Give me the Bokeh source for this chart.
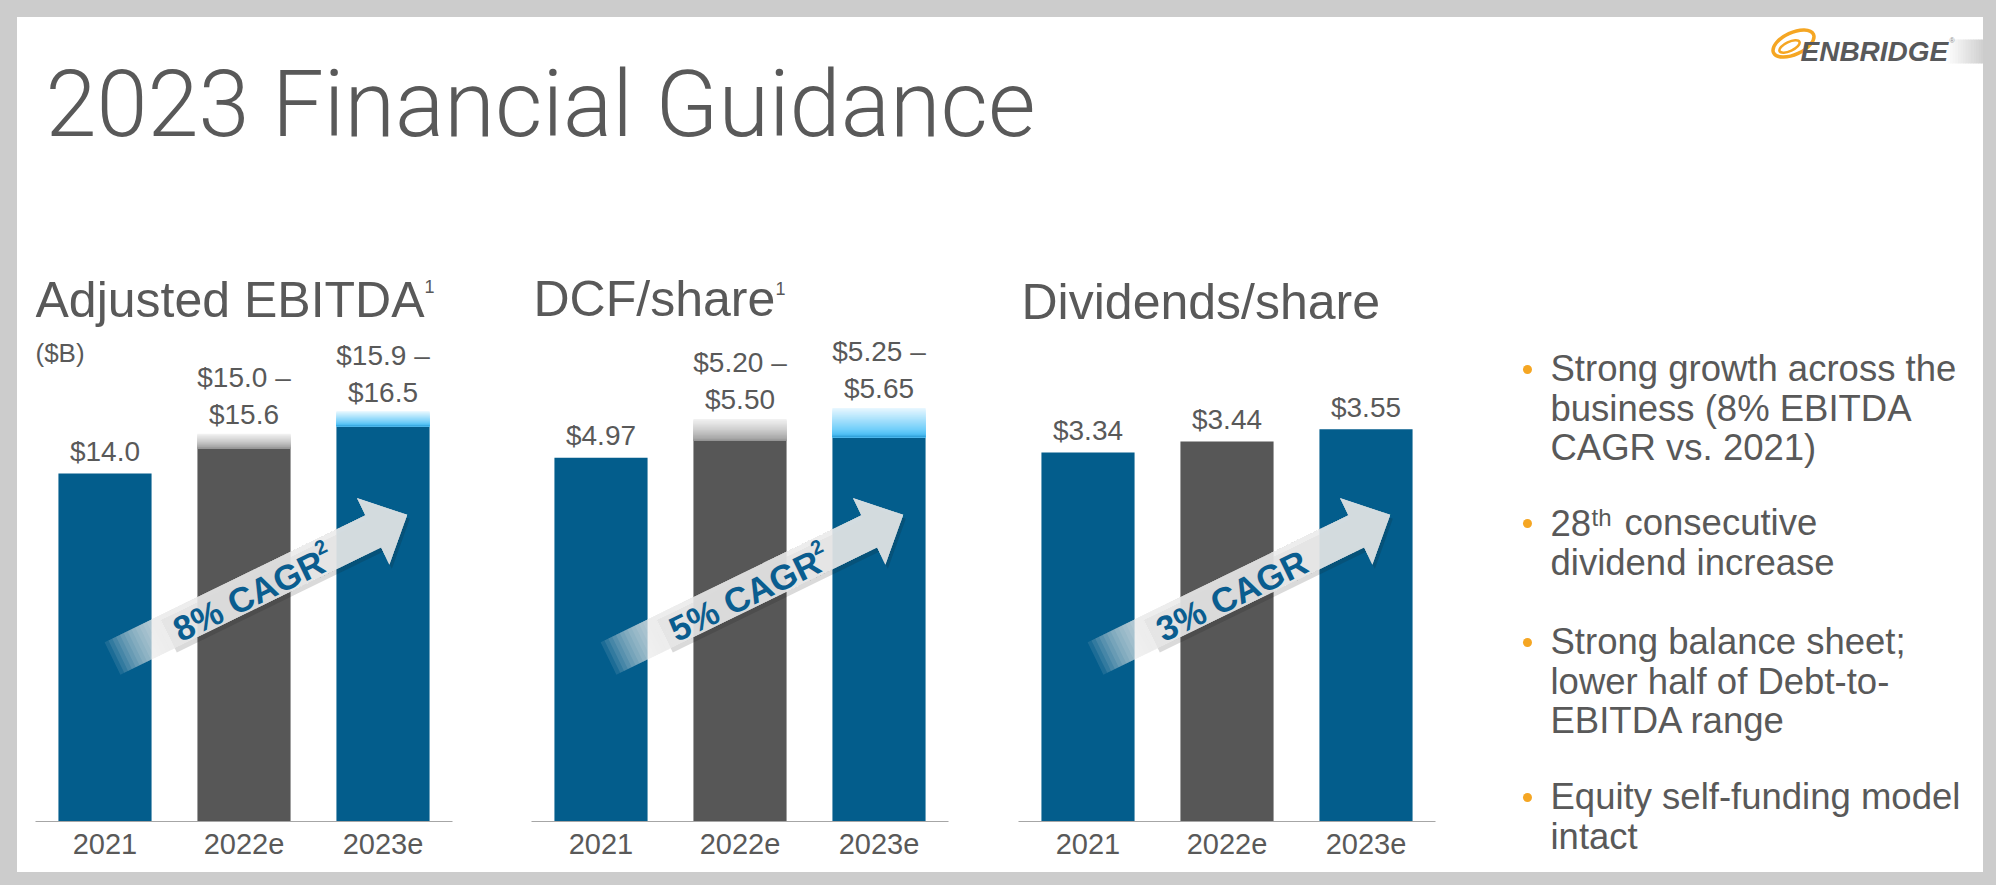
import math
from bokeh.plotting import figure
from bokeh.models import Range1d, Div, GlobalInlineStyleSheet
from bokeh.layouts import column, row
from bokeh.core.properties import value
from bokeh.embed import file_html
from bokeh.resources import INLINE

# ---------------- data ----------------
categories = ["2021", "2022e", "2023e"]
ebitda_low = [14.0, 15.0, 15.9]
ebitda_high = [14.0, 15.6, 16.5]
dcf_low = [4.97, 5.20, 5.25]
dcf_high = [4.97, 5.50, 5.65]
dividends = [3.34, 3.44, 3.55]
chart_titles = ["Adjusted EBITDA", "DCF/share", "Dividends/share"]
title_notes = ["1", "1", ""]
unit_labels = ["($B)", "", ""]
cagr_labels = ["8% CAGR", "5% CAGR", "3% CAGR"]
cagr_notes = ["2", "2", ""]
value_decimals = [1, 2, 2]
main_title = "2023 Financial Guidance"
logo_text = "ENBRIDGE"
bullet_items = [
    ["Strong growth across the", "business (8% EBITDA", "CAGR vs. 2021)"],
    ["28|th|consecutive", "dividend increase"],
    ["Strong balance sheet;", "lower half of Debt-to-", "EBITDA range"],
    ["Equity self-funding model", "intact"],
]

# ---------------- styles / layout ----------------
FONT = value("Liberation Sans")
TXT = "#595959"
BLUE = "#035d8c"
DGRAY = "#575757"
ORANGE = "#f5a623"
CAGR_BLUE = "#0a5d8f"
FRAME_GRAY = "#cccccc"
bar_colors = [BLUE, DGRAY, BLUE]
blue_band = [(0.0, (42, 154, 211)), (0.1, (80, 192, 245)), (0.25, (110, 205, 249)), (1.0, (234, 248, 255))]
gray_band = [(0.0, (138, 138, 138)), (0.1, (166, 166, 166)), (0.5, (205, 205, 205)), (1.0, (243, 243, 243))]

EDGE = 7          # gray frame inside the 8px page margin (page body is gray too)
INNER_W = 1966
TOP_H = 185
CH_H = 670
FRAME_W = 417
FRAME_H = 619
BORDER_B = 51
FACTOR_PX = FRAME_W / 3
ppu = [24.86, 73.2, 110.5]
chart_borders = [(18, 40), (39, 29), (41, 27)]
title_pos = [(0, 504), (2, 505), (3, 502)]
note_pos = [(389, 529), (244, 527), None]
ARROW_ANGLE = 26.0
BASE_FIX = 0.355   # baseline correction (fraction of font size)


def lerp_color(stops, f):
    for (f0, c0), (f1, c1) in zip(stops[:-1], stops[1:]):
        if f <= f1:
            t = 0 if f1 == f0 else (f - f0) / (f1 - f0)
            c = [round(a + (b - a) * t) for a, b in zip(c0, c1)]
            return "#%02x%02x%02x" % tuple(c)
    return "#%02x%02x%02x" % stops[-1][1]


def txt(p, x, y, s, size, up=1.0, color=TXT, style="normal", align="left",
        baseline="alphabetic", angle=0.0, font=FONT):
    if baseline == "alphabetic":
        y = y + BASE_FIX * size * up
    p.text(x=[x], y=[y], text=[s], text_font=font, text_font_size=f"{size}px",
           text_font_style=style, text_color=color, text_align=align,
           text_baseline=baseline, angle=math.radians(angle))


def plain(p):
    p.grid.visible = False
    p.outline_line_color = None
    p.background_fill_color = "white"
    p.border_fill_color = "white"
    p.styles = {"background-color": "white"}


def make_chart(i, low, high):
    s = ppu[i]
    bl, br = chart_borders[i]
    p = figure(x_range=categories, y_range=Range1d(0, FRAME_H / s),
               frame_width=FRAME_W, frame_height=FRAME_H,
               min_border_left=bl, min_border_right=br, min_border_top=0,
               min_border_bottom=BORDER_B, toolbar_location=None,
               output_backend="svg", y_axis_location=None)
    plain(p)
    X = lambda px: px / FACTOR_PX
    Y = lambda px: px / s
    up = 1.0 / s

    # solid bars
    p.vbar(x=categories, bottom=0, top=low, width=0.67,
           fill_color=bar_colors, line_color=None)
    # guidance range bands
    N = 30
    bx, bb, bt, bc = [], [], [], []
    for j, cat in enumerate(categories):
        if high[j] > low[j]:
            stops = gray_band if bar_colors[j] == DGRAY else blue_band
            for k in range(N):
                f = 1 - k / N
                bx.append(cat)
                bb.append(low[j])
                bt.append(low[j] + f * (high[j] - low[j]))
                bc.append(lerp_color(stops, f - 0.5 / N))
    if bx:
        p.vbar(x=bx, bottom=bb, top=bt, width=0.67, fill_color=bc, line_color=None)

    # value labels
    fmt = "${:.%df}" % value_decimals[i]
    for j, cat in enumerate(categories):
        if high[j] > low[j]:
            txt(p, cat, high[j] + Y(9), fmt.format(high[j]), 28, up, align="center")
            txt(p, cat, high[j] + Y(46), fmt.format(low[j]) + " \u2013", 28, up, align="center")
        else:
            txt(p, cat, low[j] + Y(12), fmt.format(low[j]), 28, up, align="center")

    # titles
    tx, ty = title_pos[i]
    txt(p, X(tx), Y(ty), chart_titles[i], 50, up)
    if title_notes[i]:
        nx, ny = note_pos[i]
        txt(p, X(nx), Y(ny), title_notes[i], 18, up)
    if unit_labels[i]:
        txt(p, X(0), Y(459), unit_labels[i], 26, up)

    # CAGR arrow (decoration)
    th = math.radians(ARROW_ANGLE)
    tail = (77.0, 163.0)
    L, hl, sw, hw = 328.0, 38.0, 36.0, 74.0

    def to_data(u, v, dx=0.0, dy=0.0):
        xp = tail[0] + u * math.cos(th) - v * math.sin(th) + dx
        yp = tail[1] + u * math.sin(th) + v * math.cos(th) + dy
        return X(xp), Y(yp)

    def poly(pts, dx=0.0, dy=0.0):
        d = [to_data(u, v, dx, dy) for u, v in pts]
        return [a for a, b in d], [b for a, b in d]

    def arrow_from(u0):
        return [(u0, sw / 2), (L - hl, sw / 2), (L - hl, hw / 2), (L, 0),
                (L - hl, -hw / 2), (L - hl, -sw / 2), (u0, -sw / 2)]

    sx, sy = poly(arrow_from(60), 2.5, -4.0)
    p.patch(sx, sy, fill_color="#1a1a1a", fill_alpha=0.16, line_color=None)
    fade_end = 85.0
    nf = 20
    fxs, fys = [], []
    for k in range(nf):
        a, b = poly(arrow_from(fade_end * k / nf))
        fxs.append(a)
        fys.append(b)
    p.patches(fxs, fys, fill_color="#e9ecef", fill_alpha=0.109, line_color=None)
    # label on arrow
    cx, cy = to_data(150, -3)
    txt(p, cx, cy, cagr_labels[i], 35, color=CAGR_BLUE, style="bold",
        align="center", baseline="middle", angle=ARROW_ANGLE)
    if cagr_notes[i]:
        nx2, ny2 = to_data(236, 9)
        txt(p, nx2, ny2, cagr_notes[i], 20, color=CAGR_BLUE, style="bold",
            align="center", baseline="middle", angle=ARROW_ANGLE)

    # category axis
    ax = p.xaxis[0]
    ax.axis_line_color = "#a6a6a6"
    ax.axis_line_width = 1.2
    ax.major_tick_line_color = None
    ax.minor_tick_line_color = None
    ax.major_label_text_font = "Liberation Sans"
    ax.major_label_text_font_size = "29px"
    ax.major_label_text_color = TXT
    ax.major_label_standoff = 6
    return p


c1 = make_chart(0, ebitda_low, ebitda_high)
c2 = make_chart(1, dcf_low, dcf_high)
c3 = make_chart(2, dividends, dividends)

# ---------------- header ----------------
hdr = figure(frame_width=INNER_W, frame_height=TOP_H, x_range=Range1d(0, INNER_W),
             y_range=Range1d(TOP_H, 0), min_border=0, toolbar_location=None,
             output_backend="svg", x_axis_location=None, y_axis_location=None)
plain(hdr)
txt(hdr, 28, 120, main_title, 92, up=-1.0, font=value("Roboto Light"))
# logo band
nb = 14
for k in range(nb):
    g = round(255 - (255 - 208) * (k + 1) / nb)
    hdr.quad(left=1930 + 36 * k / nb, right=1930 + 36 * (k + 1) / nb + 0.5, top=22, bottom=46,
             fill_color="#%02x%02x%02x" % (g, g, g), line_color=None)
hdr.ellipse(x=[1776], y=[26], width=[44], height=[22], angle=math.radians(25),
            fill_alpha=0, line_color=ORANGE, line_width=3.5)
hdr.ellipse(x=[1772], y=[29], width=[22], height=[9], angle=math.radians(25),
            fill_alpha=0, line_color=ORANGE, line_width=2.5)
txt(hdr, 1783, 44, logo_text, 28, up=-1.0, color="#58595b", style="bold italic")
txt(hdr, 1932, 25, "\u00ae", 7, up=-1.0, color="#888888")

# ---------------- bullets ----------------
BW = INNER_W - sum(FRAME_W + a + b for a, b in chart_borders)
bul = figure(frame_width=BW, frame_height=CH_H, x_range=Range1d(0, BW),
             y_range=Range1d(CH_H, 0), min_border=0, toolbar_location=None,
             output_backend="svg", x_axis_location=None, y_axis_location=None)
plain(bul)
first_baselines = [179, 333, 452, 607]
LINE = 39.5
TX = 88
for item, y0 in zip(bullet_items, first_baselines):
    bul.scatter(x=[65], y=[y0 - 12], size=9, marker="circle", fill_color=ORANGE, line_color=None)
    for n, line in enumerate(item):
        y = y0 + n * LINE
        if "|" in line:
            a, sup, rest = line.split("|")
            txt(bul, TX, y, a, 36.5, up=-1.0)
            txt(bul, TX + 41, y - 9, sup, 24, up=-1.0)
            txt(bul, TX + 74, y, rest, 36.5, up=-1.0)
        else:
            txt(bul, TX, y, line, 36.5, up=-1.0)


def gray_box(w, h):
    return Div(width=w, height=h, styles={"background-color": FRAME_GRAY})


TOTAL_W = INNER_W + 2 * EDGE
white = {"background-color": "white"}
chart_row = row(c1, c2, c3, bul, spacing=0, styles=white)
inner = column(hdr, chart_row, spacing=0, styles=white)
page = column(
    gray_box(TOTAL_W, EDGE),
    row(gray_box(EDGE, TOP_H + CH_H), inner, gray_box(EDGE, TOP_H + CH_H), spacing=0),
    gray_box(TOTAL_W, EDGE),
    spacing=0,
)
page.stylesheets = [GlobalInlineStyleSheet(css="body { background-color: %s; }" % FRAME_GRAY)]

open("out.html", "w").write(file_html(page, INLINE))
